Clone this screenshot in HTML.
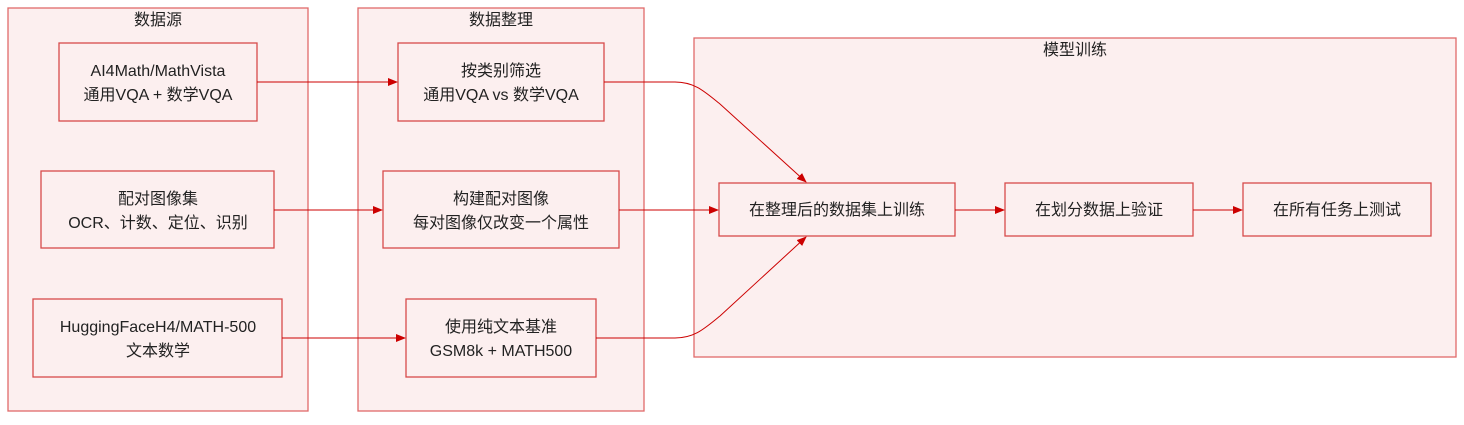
<!DOCTYPE html>
<html><head><meta charset="utf-8"><style>
body{margin:0;background:#fff;}
text{font-family:"Liberation Sans","Noto Sans CJK SC",sans-serif;font-size:16px;fill:#222;text-anchor:middle;}
.c{fill:#fcefef;stroke:#e06a6a;stroke-width:1.3;}
.n{fill:#fcefef;stroke:#d84a4a;stroke-width:1.3;}
.e{fill:none;stroke:#cc0000;stroke-width:1;}
</style></head><body>
<svg width="1464" height="420" viewBox="0 0 1464 420" xmlns="http://www.w3.org/2000/svg">
<defs><marker id="a" markerWidth="10" markerHeight="8" refX="9" refY="4" orient="auto" markerUnits="userSpaceOnUse"><path d="M0,0 L10,4 L0,8 z" fill="#cc0000"/></marker></defs>
<rect class="c" x="8" y="8" width="300" height="403"/>
<text x="158" y="25">数据源</text>
<rect class="c" x="358" y="8" width="286" height="403"/>
<text x="501" y="25">数据整理</text>
<rect class="c" x="694" y="38" width="762" height="319"/>
<text x="1075" y="55">模型训练</text>

<rect class="n" x="59" y="43" width="198" height="78"/>
<text x="158" y="76">AI4Math/MathVista</text><text x="158" y="100">通用VQA + 数学VQA</text>
<rect class="n" x="41" y="171" width="233" height="77"/>
<text x="158" y="204">配对图像集</text><text x="158" y="228">OCR、计数、定位、识别</text>
<rect class="n" x="33" y="299" width="249" height="78"/>
<text x="158" y="332">HuggingFaceH4/MATH-500</text><text x="158" y="356">文本数学</text>

<rect class="n" x="398" y="43" width="206" height="78"/>
<text x="501" y="76">按类别筛选</text><text x="501" y="100">通用VQA vs 数学VQA</text>
<rect class="n" x="383" y="171" width="236" height="77"/>
<text x="501" y="204">构建配对图像</text><text x="501" y="228">每对图像仅改变一个属性</text>
<rect class="n" x="406" y="299" width="190" height="78"/>
<text x="501" y="332">使用纯文本基准</text><text x="501" y="356">GSM8k + MATH500</text>

<rect class="n" x="719" y="183" width="236" height="53"/>
<text x="837" y="215">在整理后的数据集上训练</text>
<rect class="n" x="1005" y="183" width="188" height="53"/>
<text x="1099" y="215">在划分数据上验证</text>
<rect class="n" x="1243" y="183" width="188" height="53"/>
<text x="1337" y="215">在所有任务上测试</text>

<path class="e" d="M257,82 L397,82" marker-end="url(#a)"/>
<path class="e" d="M274,210 L382,210" marker-end="url(#a)"/>
<path class="e" d="M282,338 L405,338" marker-end="url(#a)"/>
<path class="e" d="M604,82 L675,82 C695,82 705,92 720,104 L806,182" marker-end="url(#a)"/>
<path class="e" d="M619,210 L718,210" marker-end="url(#a)"/>
<path class="e" d="M596,338 L675,338 C695,338 705,328 720,316 L806,237" marker-end="url(#a)"/>
<path class="e" d="M955,210 L1004,210" marker-end="url(#a)"/>
<path class="e" d="M1193,210 L1242,210" marker-end="url(#a)"/>
</svg>
</body></html>
